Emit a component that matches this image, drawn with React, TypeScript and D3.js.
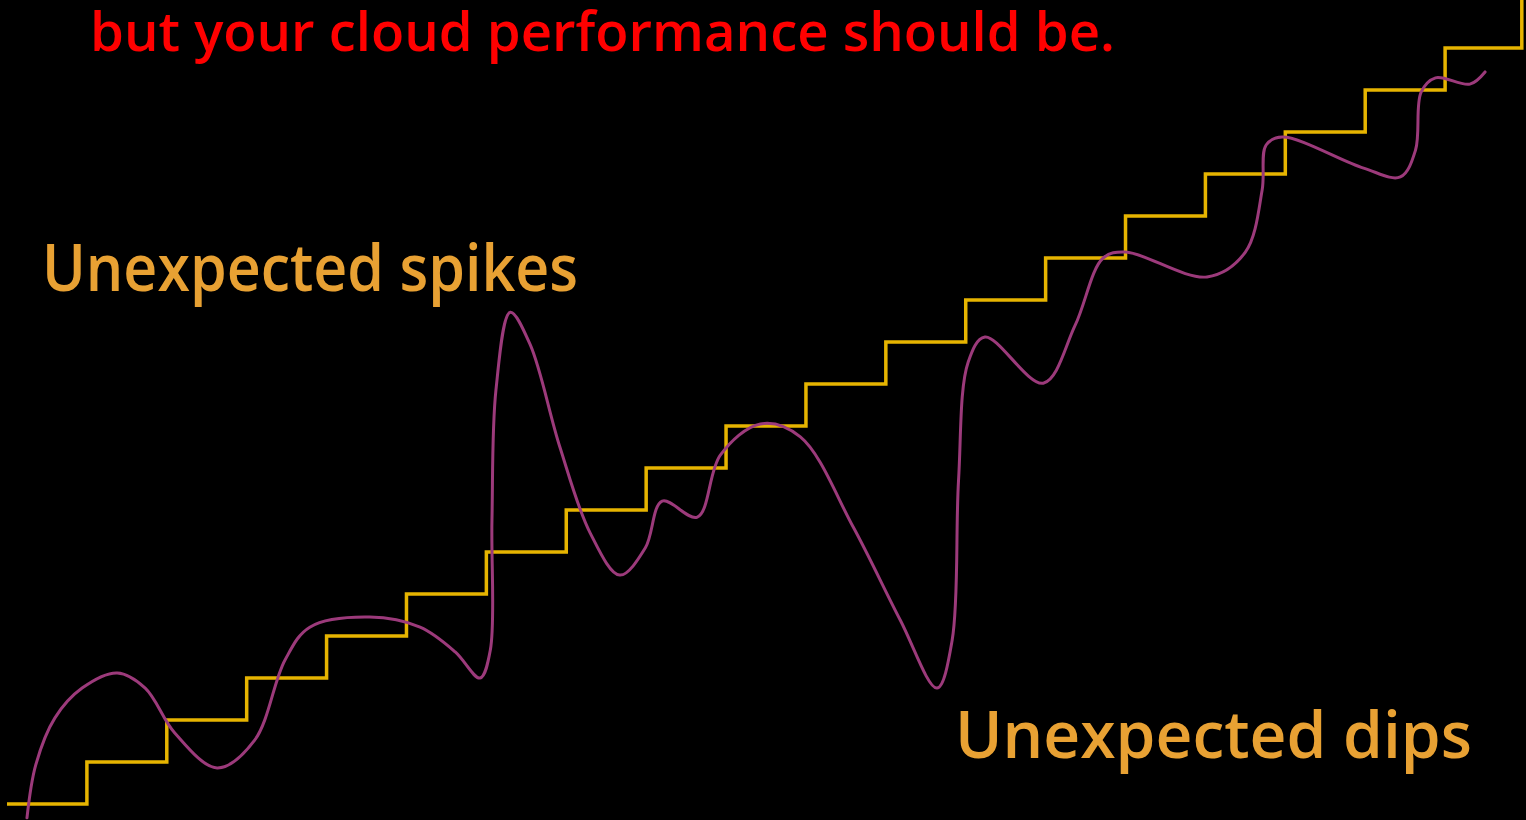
import React from "react";
import * as d3 from "d3";

// Provisioned capacity: one step up per interval
const stepX: number[] = [0, 1, 2, 3, 4, 5, 6, 7, 8, 9, 10, 11, 12, 13, 14, 15, 16, 17, 18, 18.96];
const stepLevel: number[] = [0, 1, 2, 3, 4, 5, 6, 7, 8, 9, 10, 11, 12, 13, 14, 15, 16, 17, 18, 19.5];

// Actual cloud performance (time, level)
const perfX: number[] = [
  0.25, 0.36, 0.6, 0.94, 1.38, 1.73, 2.1, 2.63, 3.1, 3.48, 3.79, 4.54, 5.17, 5.61, 5.92,
  6.05, 6.07, 6.12, 6.3, 6.55, 6.92, 7.3, 7.67, 7.99, 8.2, 8.64, 8.93, 9.43, 9.93, 10.59,
  11.18, 11.64, 11.83, 11.91, 12.03, 12.24, 12.97, 13.37, 13.72, 14.0, 15.02, 15.5, 15.71,
  15.76, 15.96, 16.98, 17.44, 17.63, 17.7, 17.88, 18.31, 18.5,
];
const perfY: number[] = [
  -0.33, 0.93, 2.05, 2.76, 3.12, 2.76, 1.69, 0.86, 1.52, 3.43, 4.21, 4.45, 4.21, 3.62, 3.0,
  3.67, 6.76, 9.86, 11.71, 10.93, 8.5, 6.45, 5.45, 6.1, 7.21, 6.83, 8.31, 9.05, 8.74, 6.6,
  4.38, 2.76, 3.9, 7.71, 10.52, 11.12, 10.02, 11.4, 13.0, 13.14, 12.55, 13.14, 14.62,
  15.69, 15.88, 15.14, 14.93, 15.57, 16.95, 17.29, 17.14, 17.43,
];

const titleLine = "but your cloud performance should be.";
const spikeLabel = "Unexpected spikes";
const dipLabel = "Unexpected dips";

const W = 1526;
const H = 820;

export default function App() {
  const x = d3.scaleLinear().domain([0, 19]).range([7, 1525]);
  const y = d3.scaleLinear().domain([0, 18]).range([804, 48]);

  const stepPts: [number, number][] = stepX.map((v, i) => [v, stepLevel[i]]);
  const stepPath = d3
    .line<[number, number]>()
    .x((d) => x(d[0]))
    .y((d) => y(d[1]))
    .curve(d3.curveStepAfter)(stepPts) as string;

  const perfPts: [number, number][] = perfX.map((v, i) => [v, perfY[i]]);
  const perfPath = d3
    .line<[number, number]>()
    .x((d) => x(d[0]))
    .y((d) => y(d[1]))
    .curve(d3.curveCatmullRom.alpha(0.5))(perfPts) as string;

  const font = "'Open Sans', 'DejaVu Sans', sans-serif";

  return (
    <svg
      width={W}
      height={H}
      style={{ position: "absolute", left: 0, top: 0, display: "block" }}
    >
      <rect x={0} y={0} width={W} height={H} fill="#000" />
      <path d={stepPath} fill="none" stroke="#e6b400" strokeWidth={3.5} strokeLinejoin="miter" />
      <path d={perfPath} fill="none" stroke="#9c3a7b" strokeWidth={3} strokeLinecap="round" />
      <text
        x={90}
        y={51}
        fill="#ff0000"
        fontFamily={font}
        fontWeight={600}
        fontSize={55}
        textLength={1025}
        lengthAdjust="spacingAndGlyphs"
      >
        {titleLine}
      </text>
      <text
        x={42}
        y={291}
        fill="#e8a133"
        fontFamily={font}
        fontWeight={600}
        fontSize={65}
        textLength={536}
        lengthAdjust="spacingAndGlyphs"
      >
        {spikeLabel}
      </text>
      <text
        x={955}
        y={758}
        fill="#e8a133"
        fontFamily={font}
        fontWeight={600}
        fontSize={65}
        textLength={517}
        lengthAdjust="spacingAndGlyphs"
      >
        {dipLabel}
      </text>
    </svg>
  );
}
